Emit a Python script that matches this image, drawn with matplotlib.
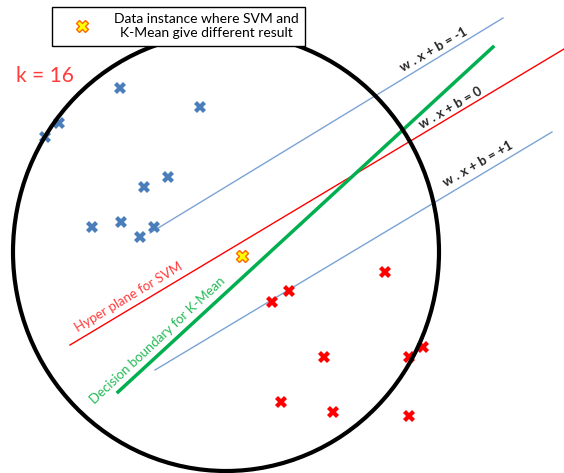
import matplotlib
matplotlib.use("Agg")
import matplotlib.pyplot as plt
from matplotlib.patches import Ellipse
from matplotlib.lines import Line2D

plt.rcParams['font.family'] = ['Lato', 'DejaVu Sans']

# points (picture coords, y grows downward)
blue_x = [120, 200, 59, 45, 168, 144, 92, 121, 154, 140]
blue_y = [88, 107, 123, 137, 177, 187, 227, 222, 227, 237]
red_x = [385, 289, 272, 324, 409, 423, 281, 333, 409]
red_y = [272, 291, 302, 357, 357, 347, 402, 412, 416]
odd_x = [242]
odd_y = [256]

# lines: (x0, x1), (y0, y1)
margin_neg_x, margin_neg_y = [150, 503], [233, 18]
hyper_x, hyper_y = [70, 564], [345, 49]
margin_pos_x, margin_pos_y = [155, 552], [370, 132]
kmean_x, kmean_y = [118, 493], [392, 47]

# neighbourhood circle
circle_center = (226, 252)
circle_w, circle_h = 426, 438

blue_c = '#4a7ebb'
red_c = '#ff0000'
green_c = '#00b050'

fig = plt.figure(figsize=(5.64, 4.73), dpi=100)
ax = fig.add_axes([0, 0, 1, 1])
ax.set_xlim(0, 564)
ax.set_ylim(473, 0)
ax.axis('off')

ax.plot(margin_neg_x, margin_neg_y, color='#7ba3d6', lw=1)
ax.plot(margin_pos_x, margin_pos_y, color='#7ba3d6', lw=1)
ax.plot(hyper_x, hyper_y, color=red_c, lw=1)
ax.plot(kmean_x, kmean_y, color=green_c, lw=2.5)

ax.plot(blue_x, blue_y, 'X', color=blue_c, ms=9, mew=0)
ax.plot(red_x, red_y, 'X', color=red_c, ms=9, mew=0)
ax.plot(odd_x, odd_y, 'X', mfc='#ffff00', mec='#ff6600', ms=9, mew=1)

handle = Line2D([], [], ls='none', marker='X', mfc='#ffff00', mec='#ff6600', ms=9, mew=1)
leg = ax.legend([handle], ['Data instance where SVM and\nK-Mean give different result'],
                loc='upper left', bbox_to_anchor=(0.092, 0.985), fancybox=False,
                edgecolor='black', framealpha=1, fontsize=10, borderpad=0.45,
                handletextpad=0.6, handlelength=3.4, borderaxespad=0)
leg.get_frame().set_linewidth(1)
for t in leg.get_texts():
    t.set_multialignment('center')

circle = Ellipse(circle_center, circle_w, circle_h, fill=False, color='black', lw=3, zorder=5, clip_on=False)
ax.add_patch(circle)

ax.text(45, 76, 'k = 16', color='#ff3b3b', fontsize=15, ha='center', va='center')

ax.text(434, 50, 'w . x + b = -1', fontsize=9.5, fontweight='bold', color='#262626',
        rotation=30, ha='center', va='center')
ax.text(451, 108, 'w . x + b = 0', fontsize=9.5, fontweight='bold', color='#262626',
        rotation=30, ha='center', va='center')
ax.text(478, 164, 'w . x + b = +1', fontsize=9.5, fontweight='bold', color='#262626',
        rotation=30, ha='center', va='center')
ax.text(129, 297, 'Hyper plane for SVM', fontsize=9.5, color='#ff3b3b',
        rotation=31, ha='center', va='center')
ax.text(158, 340, 'Decision boundary for K-Mean', fontsize=9.5, color='#22bb55',
        rotation=43, ha='center', va='center')

plt.savefig('out.png', dpi=100)
